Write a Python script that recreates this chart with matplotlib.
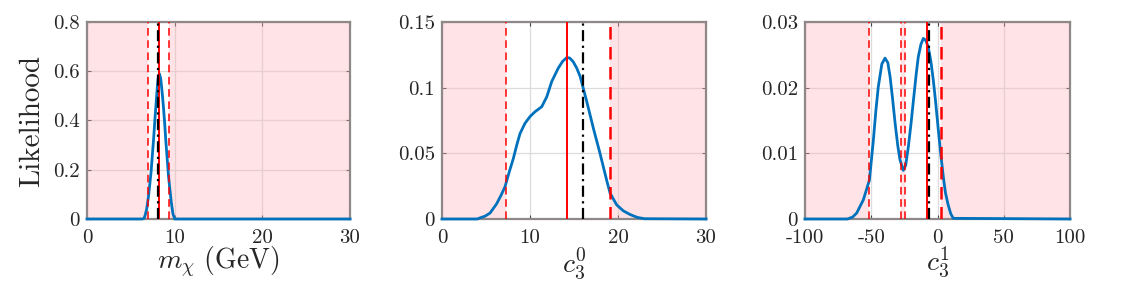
import matplotlib
matplotlib.use("Agg")
import matplotlib.pyplot as plt

plt.rcParams['font.family'] = 'serif'
plt.rcParams['font.serif'] = ['cmr10']
plt.rcParams['mathtext.fontset'] = 'cm'
plt.rcParams['axes.unicode_minus'] = False

# panel 1: dark matter mass
m_x = [0, 6.3, 6.5, 6.6, 6.8, 7.0, 7.15, 7.3, 7.45, 7.6, 7.75, 7.9, 8.0, 8.1, 8.25,
       8.4, 8.55, 8.7, 8.85, 9.0, 9.15, 9.3, 9.45, 9.6, 9.8, 10.0, 30]
m_y = [0, 0, 0.003, 0.012, 0.04, 0.09, 0.14, 0.19, 0.26, 0.33, 0.41, 0.48, 0.53, 0.57, 0.59,
       0.57, 0.52, 0.46, 0.39, 0.31, 0.24, 0.17, 0.12, 0.07, 0.02, 0, 0]

# panel 2: c3^0
c0_x = [0, 4.0, 4.3, 4.9, 5.45, 6.2, 6.7, 7.16, 7.6, 8.1, 8.5, 8.86, 9.43, 10.0, 10.57,
        11.33, 11.9, 12.46, 13.2, 13.7, 14.17, 14.5, 14.9, 15.3, 15.7, 16.4, 17.2, 17.95,
        18.7, 19.1, 19.85, 20.6, 21.4, 22.2, 23.0, 30]
c0_y = [0, 0, 0.0008, 0.0022, 0.0045, 0.0115, 0.018, 0.0246, 0.035, 0.046, 0.0565, 0.065,
        0.0729, 0.078, 0.0817, 0.0855, 0.093, 0.1046, 0.1148, 0.1200, 0.1229, 0.1226, 0.1198,
        0.1150, 0.1084, 0.0906, 0.069, 0.05, 0.0297, 0.0196, 0.0107, 0.0062, 0.0033, 0.0012,
        0.0002, 0]

# panel 3: c3^1
c1_x = [-100, -68, -64, -61, -56, -51.4, -48.4, -46.5, -44.7, -42, -39.6, -37.5, -35.8,
        -34, -32, -30, -28.3, -25.8, -24, -22, -20, -18.2, -16, -14.5, -12.5, -10.7, -8.8,
        -7, -5, -3.2, -1.5, 0.6, 2.5, 4.4, 6, 8.1, 10, 11.9, 100]
c1_y = [0, 0, 0.0003, 0.0009, 0.0029, 0.0059, 0.012, 0.0165, 0.0201, 0.0236, 0.0245,
        0.0238, 0.0217, 0.0185, 0.0146, 0.0112, 0.009, 0.0074, 0.0082, 0.011, 0.0145, 0.018,
        0.0222, 0.0247, 0.0266, 0.0275, 0.0272, 0.0262, 0.0240, 0.0212, 0.0180, 0.0136,
        0.0098, 0.0064, 0.0040, 0.0021, 0.0008, 0.0001, 0]

# excluded (pink) intervals, bounds, best fit (red) and true value (black)
m_shade = [(0, 7.0), (9.35, 30)]
m_dashed = [(7.0, 1.1), (9.35, 1.1)]
m_best, m_true = 8.2, 8.1

c0_shade = [(0, 7.24), (19.1, 30)]
c0_dashed = [(7.24, 1.1), (19.1, 1.8)]
c0_best, c0_true = 14.2, 16.0

c1_shade = [(-100, -51.4), (-27.3, -24.2), (2.6, 100)]
c1_dashed = [(-51.4, 1.1), (-27.3, 1.1), (-24.2, 1.1), (2.6, 1.8)]
c1_best, c1_true = -7.9, -6.4

panels = [
    dict(x=m_x, y=m_y, shade=m_shade, dashed=m_dashed, best=m_best, true=m_true,
         xlim=(0, 30), xticks=[0, 10, 20, 30], xtl=['0', '10', '20', '30'],
         ylim=(0, 0.8), yticks=[0, 0.2, 0.4, 0.6, 0.8], ytl=['0', '0.2', '0.4', '0.6', '0.8'],
         xlabel=r'$m_\chi\ \mathrm{(GeV)}$', left=0.0763, width=0.2305),
    dict(x=c0_x, y=c0_y, shade=c0_shade, dashed=c0_dashed, best=c0_best, true=c0_true,
         xlim=(0, 30), xticks=[0, 10, 20, 30], xtl=['0', '10', '20', '30'],
         ylim=(0, 0.15), yticks=[0, 0.05, 0.1, 0.15], ytl=['0', '0.05', '0.1', '0.15'],
         xlabel=r'$c_3^0$', left=0.3874, width=0.2314),
    dict(x=c1_x, y=c1_y, shade=c1_shade, dashed=c1_dashed, best=c1_best, true=c1_true,
         xlim=(-100, 100), xticks=[-100, -50, 0, 50, 100], xtl=['-100', '-50', '0', '50', '100'],
         ylim=(0, 0.03), yticks=[0, 0.01, 0.02, 0.03], ytl=['0', '0.01', '0.02', '0.03'],
         xlabel=r'$c_3^1$', left=0.7055, width=0.2323),
]

fig = plt.figure(figsize=(11.41, 2.88), dpi=100)
edge = '#8f8888'

for i, p in enumerate(panels):
    ax = fig.add_axes([p['left'], 0.2396, p['width'], 0.684])
    ax.set_axisbelow(True)
    ax.grid(True, color='#dcdcdc', linewidth=0.9)
    for a, b in p['shade']:
        ax.axvspan(a, b, facecolor=(1.0, 0.706, 0.729), alpha=0.36, lw=0, zorder=1)
    ax.plot(p['x'], p['y'], color='#0072BD', lw=2.0, zorder=3, clip_on=False)
    for xv, lw in p['dashed']:
        ax.axvline(xv, color='red', ls=(0, (5, 3)), lw=lw, zorder=4)
    ax.axvline(p['best'], color='red', lw=1.4, zorder=4)
    ax.axvline(p['true'], color='black', ls=(0, (5, 2, 1, 2)), lw=1.6, zorder=5)

    ax.set_xlim(p['xlim'])
    ax.set_ylim(p['ylim'])
    ax.set_xticks(p['xticks'])
    ax.set_xticklabels(p['xtl'])
    ax.set_yticks(p['yticks'])
    ax.set_yticklabels(p['ytl'])
    ax.tick_params(direction='in', length=3, width=0.8, color='#444444',
                   labelsize=15, labelcolor='#262626', top=True, right=True)
    ax.tick_params(axis='x', pad=7)
    ax.tick_params(axis='y', pad=5)
    for s in ax.spines.values():
        s.set_color(edge)
        s.set_linewidth(1.6)
    ax.set_xlabel(p['xlabel'], fontsize=20, color='#262626', labelpad=-1)
    if i == 0:
        ax.set_ylabel('Likelihood', fontsize=21, color='#262626', labelpad=6)

fig.savefig('out.png', dpi=100)
